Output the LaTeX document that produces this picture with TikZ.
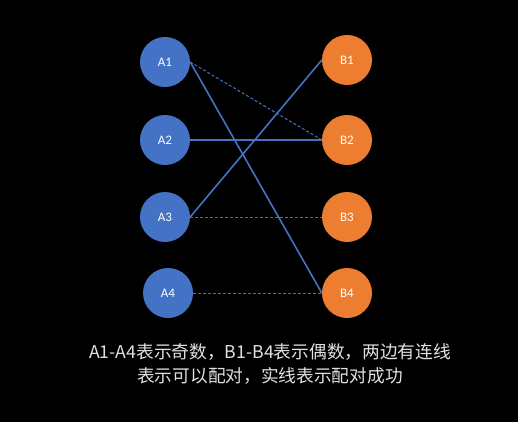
\documentclass[tikz,border=0pt]{standalone}
\usepackage{fontspec}
\setmainfont{Carlito}
\newfontfamily\cjk{Noto Sans CJK SC}
\definecolor{oddblue}{RGB}{68,114,196}
\definecolor{evenorange}{RGB}{237,125,49}
\definecolor{captiongray}{RGB}{225,225,225}

\begin{document}
\begin{tikzpicture}[x=1pt, y=-1pt,
  odd/.style={circle, fill=oddblue, minimum size=50pt, inner sep=0pt, text=white, font=\fontsize{13}{13}\selectfont},
  even/.style={odd, fill=evenorange},
  matched/.style={draw=oddblue, line width=1.6pt},
  possible/.style={draw=oddblue, line width=1pt, dash pattern=on 3pt off 2pt}]
\fill[black] (0,0) rectangle (518,422);
\useasboundingbox (0,0) rectangle (518,422);

\node[odd] (A1) at (165,62) {A1};
\node[odd] (A2) at (165,140) {A2};
\node[odd] (A3) at (165,217) {A3};
\node[odd] (A4) at (168,293) {A4};

\foreach \i/\y in {1/60,2/140,3/217,4/293}
\node[even] (B\i) at (347,\y) {B\i};

\draw[possible] (A1.east) -- (B2.west);
\draw[possible] (A3.east) -- (B3.west);
\draw[possible] (A4.east) -- (B4.west);
\draw[matched] (A1.east) -- (B4.west);
\draw[matched] (A2.east) -- (B2.west);
\draw[matched] (A3.east) -- (B1.west);

\node[text=captiongray, align=center, font=\cjk\fontsize{17.7}{24}\selectfont] (caption) at (270,364)
  {A1-A4表示奇数，B1-B4表示偶数，两边有连线\\表示可以配对，实线表示配对成功};
\end{tikzpicture}
\end{document}
